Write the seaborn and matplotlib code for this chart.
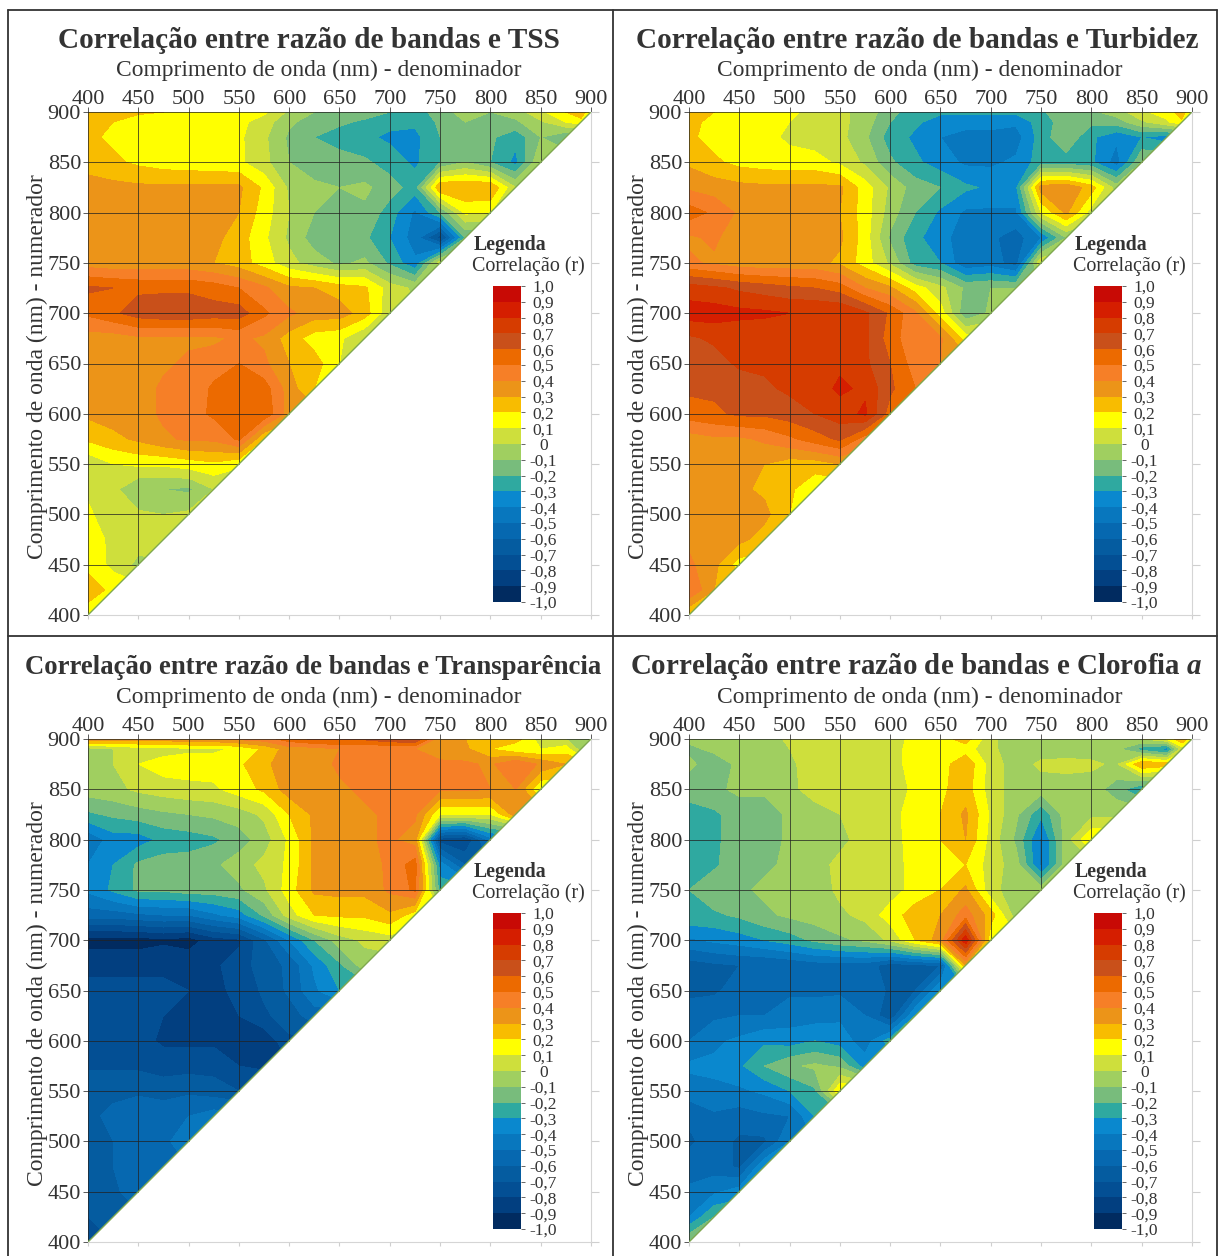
import numpy as np
import matplotlib
matplotlib.use('Agg')
import matplotlib.pyplot as plt
import seaborn as sns
from matplotlib.colors import BoundaryNorm, ListedColormap
from matplotlib.lines import Line2D
from matplotlib.patches import Polygon

W, H = 1219, 1256

wavelengths = [400, 425, 450, 475, 500, 525, 550, 575, 600, 625, 650, 675, 700, 725, 750, 775, 800, 825,
               850, 875, 890, 900]
ticks = [400, 450, 500, 550, 600, 650, 700, 750, 800, 850, 900]
levels = [round(-1 + 0.1 * i, 1) for i in range(21)]
level_labels = ['-1,0', '-0,9', '-0,8', '-0,7', '-0,6', '-0,5', '-0,4', '-0,3', '-0,2', '-0,1', '0',
                '0,1', '0,2', '0,3', '0,4', '0,5', '0,6', '0,7', '0,8', '0,9', '1,0']
level_colors = ['#012B60', '#023F80', '#034F94', '#055CA0', '#0668B0', '#0877BE', '#0A88CE', '#2FA9A0',
                '#78BC7C', '#A0CF60', '#CEDF3C', '#FFFF00', '#F8BC00', '#EC9418', '#F67F27', '#EC6A00',
                '#C9501A', '#D63C00', '#D51E00', '#C80A05']

# rows run from numerator 400 up to 900, each one stops at the diagonal
tss = [
    [.10],
    [.30, .15],
    [.15, .08, -.03],
    [.14, .08, .05, .10],
    [.12, .03, .02, .00, .02],
    [.08, .03, -.10, -.10, -.12, .00],
    [.02, .10, .12, .12, .15, .18, .12],
    [.22, .27, .32, .38, .42, .42, .52, .20],
    [.32, .35, .35, .42, .45, .52, .60, .58, .35],
    [.32, .33, .35, .42, .42, .52, .58, .55, .35, .20],
    [.32, .32, .35, .38, .42, .45, .50, .42, .30, .25, .10],
    [.35, .35, .38, .38, .38, .38, .42, .38, .25, .15, .12, .00],
    [.52, .58, .65, .67, .67, .65, .65, .52, .42, .35, .35, .25, .02],
    [.62, .60, .58, .58, .58, .55, .50, .42, .32, .30, .25, .22, .05, -.02],
    [.35, .33, .33, .33, .33, .30, .25, .15, .03, -.05, -.12, -.08, -.22, -.38, .05],
    [.32, .32, .33, .33, .33, .33, .25, .12, -.02, -.15, -.15, -.18, -.30, -.45, -.75, -.20],
    [.33, .33, .33, .33, .33, .33, .30, .15, .00, -.10, -.10, -.12, -.25, -.42, -.20, .12, .10],
    [.35, .33, .32, .32, .32, .32, .32, .18, -.02, -.08, -.10, -.08, -.15, -.25, .30, .30, .30, .00],
    [.25, .22, .18, .15, .14, .13, .12, .03, -.10, -.15, -.15, -.18, -.25, -.32, -.20, -.10, -.20, -.33, .00],
    [.22, .18, .15, .15, .15, .15, .12, .02, -.12, -.20, -.25, -.28, -.32, -.33, -.20, -.15, -.18, -.27, -.10,
     -.20],
    [.22, .20, .14, .14, .14, .14, .13, .05, -.08, -.15, -.18, -.22, -.27, -.28, -.18, -.10, -.12, -.12, -.02,
     .10, .15],
    [.22, .25, .22, .20, .15, .15, .15, .12, -.02, -.10, -.15, -.15, -.20, -.25, -.15, -.05, -.10, -.05, .08,
     .20, .28, .10],
]
turbidez = [
    [.20],
    [.50, .30],
    [.42, .33, .15],
    [.38, .33, .33, .25],
    [.32, .32, .33, .33, .20],
    [.32, .32, .32, .28, .22, .12],
    [.32, .32, .33, .30, .25, .25, .30],
    [.35, .38, .38, .42, .48, .55, .62, .45],
    [.55, .58, .62, .62, .65, .70, .75, .82, .55],
    [.62, .62, .63, .68, .72, .75, .82, .78, .62, .50],
    [.63, .65, .72, .72, .72, .72, .78, .72, .60, .45, .40],
    [.68, .72, .72, .72, .72, .72, .72, .72, .55, .42, .42, .15],
    [.85, .85, .83, .82, .80, .80, .80, .72, .58, .42, .15, -.18, -.08],
    [.75, .72, .68, .65, .62, .60, .55, .40, .32, .15, .03, -.12, -.10, -.10],
    [.42, .38, .34, .33, .33, .33, .28, .15, -.02, -.25, -.30, -.48, -.45, -.55, .10],
    [.38, .42, .33, .33, .33, .30, .32, .15, -.12, -.28, -.35, -.48, -.48, -.55, -.40, -.10],
    [.55, .48, .38, .35, .33, .33, .30, .15, -.05, -.20, -.32, -.42, -.42, -.42, .10, .32, .05],
    [.38, .35, .33, .32, .32, .32, .32, .15, -.02, -.15, -.20, -.28, -.32, -.32, .35, .38, .25, -.05],
    [.28, .22, .17, .15, .14, .14, .08, -.02, -.18, -.28, -.35, -.42, -.42, -.38, -.25, -.25, -.28, -.45, -.10],
    [.22, .16, .15, .13, .08, .05, .03, -.08, -.25, -.32, -.40, -.42, -.42, -.45, -.25, -.12, -.28, -.38, -.30,
     -.35],
    [.22, .18, .15, .14, .10, .05, .03, -.05, -.20, -.28, -.35, -.38, -.38, -.38, -.25, -.15, -.18, -.15, -.02,
     .08, .18],
    [.22, .20, .15, .15, .13, .05, .03, -.05, -.15, -.28, -.28, -.28, -.28, -.28, -.22, -.12, -.12, -.05, .08,
     .15, .25, .10],
]
transparencia = [
    [-.70],
    [-.70, -.62],
    [-.68, -.62, -.55],
    [-.65, -.60, -.52, -.50],
    [-.62, -.60, -.52, -.52, -.45],
    [-.62, -.58, -.52, -.52, -.50, -.45],
    [-.62, -.62, -.62, -.65, -.62, -.65, -.70],
    [-.72, -.72, -.72, -.74, -.74, -.74, -.80, -.82],
    [-.76, -.76, -.76, -.82, -.82, -.82, -.80, -.88, -.72],
    [-.78, -.78, -.78, -.80, -.82, -.82, -.80, -.72, -.65, -.55],
    [-.78, -.78, -.78, -.78, -.80, -.82, -.78, -.68, -.58, -.42, -.30],
    [-.82, -.82, -.82, -.82, -.82, -.82, -.75, -.65, -.58, -.38, -.22, -.05],
    [-.95, -.95, -.95, -.92, -.95, -.85, -.82, -.62, -.40, -.20, -.05, .02, .05],
    [-.55, -.55, -.52, -.50, -.50, -.42, -.35, -.18, .05, .20, .22, .22, .28, .15],
    [-.38, -.28, -.18, -.18, -.15, -.15, -.12, -.02, .15, .32, .33, .33, .42, .52, -.25],
    [-.40, -.30, -.18, -.15, -.15, -.12, -.05, .03, .12, .32, .35, .35, .42, .55, -.35, -.60],
    [-.48, -.35, -.35, -.27, -.25, -.22, -.15, -.05, .12, .32, .33, .38, .42, .35, -.75, -.80, -.45],
    [-.22, -.18, -.15, -.12, -.10, -.08, -.05, .02, .20, .32, .35, .38, .42, .42, .10, .10, .10, .35],
    [-.05, -.03, .02, .05, .07, .08, .15, .22, .35, .35, .38, .42, .42, .50, .42, .42, .40, .40, .10],
    [-.02, .00, .10, .15, .15, .15, .18, .28, .35, .35, .42, .42, .45, .50, .42, .42, .38, .50, .38, .30],
    [-.05, .00, .05, .05, .08, .08, .12, .22, .35, .35, .40, .40, .40, .40, .35, .32, .20, .12, .10, .15, -.05],
    [.38, .35, .35, .35, .38, .38, .42, .45, .55, .62, .62, .62, .68, .70, .32, .30, .30, .25, .05, .00, -.05,
     -.12],
]
clorofila = [
    [-.10],
    [-.40, -.20],
    [-.48, -.42, -.35],
    [-.55, -.55, -.62, -.30],
    [-.62, -.55, -.62, -.62, -.40],
    [-.58, -.52, -.55, -.52, -.50, -.30],
    [-.45, -.42, -.42, -.38, -.30, -.22, .20],
    [-.38, -.38, -.32, -.20, -.12, -.08, -.12, -.35],
    [-.50, -.42, -.38, -.32, -.35, -.30, -.35, -.45, -.25],
    [-.50, -.52, -.50, -.50, -.45, -.45, -.42, -.50, -.68, -.30],
    [-.65, -.62, -.55, -.52, -.52, -.52, -.52, -.52, -.62, -.60, -.30],
    [-.65, -.62, -.60, -.60, -.58, -.55, -.55, -.55, -.65, -.62, -.60, .30],
    [-.42, -.38, -.35, -.30, -.25, -.18, -.12, -.08, .02, .20, .35, .88, .12],
    [-.22, -.22, -.18, -.12, -.08, -.05, -.02, .03, .15, .25, .30, .45, .25, -.05],
    [-.20, -.12, -.12, -.08, -.08, -.05, .02, .03, .05, .14, .20, .32, .03, -.05, -.05],
    [-.25, -.22, -.12, -.12, -.08, -.03, .02, .03, .05, .14, .16, .20, .05, -.05, -.42, -.05],
    [-.28, -.22, -.15, -.15, -.08, -.05, -.02, .03, .05, .15, .20, .30, .06, -.12, -.42, -.05, .20],
    [-.25, -.22, -.15, -.15, -.08, -.05, .00, .05, .07, .14, .20, .32, .08, -.08, -.28, -.05, -.03, -.03],
    [-.15, -.12, -.08, -.08, -.03, .05, .05, .05, .05, .12, .18, .25, .05, -.05, -.05, -.05, -.05, -.15, -.30],
    [-.08, -.15, -.08, -.05, -.02, .05, .05, .05, .05, .15, .15, .28, .05, -.05, .02, .03, .02, -.02, .30, .25],
    [-.12, -.08, -.05, -.05, .00, .05, .05, .05, .05, .15, .15, .15, .02, -.05, -.05, -.05, -.05, -.08, -.25,
     -.35, .05],
    [-.08, -.08, -.08, -.05, .02, .05, .05, .05, .07, .12, .15, .25, .02, -.05, -.05, -.05, -.05, -.05, .00,
     .10, .30, .10],
]

titles = ['Correlação entre razão de bandas e TSS',
          'Correlação entre razão de bandas e Turbidez',
          'Correlação entre razão de bandas e Transparência',
          'Correlação entre razão de bandas e Clorofia $\\mathbfit{a}$']
panel_rows = [tss, turbidez, transparencia, clorofila]
# axes box in pixels: left, top
origins = [(88, 112), (689, 112), (88, 739), (689, 739)]
title_x = [309, 917, 313, 916]
title_size = [21.1, 21.05, 19.3, 20.9]

sns.set_theme(style='white')
plt.rcParams['font.family'] = ['Liberation Serif', 'DejaVu Serif']
plt.rcParams['mathtext.fontset'] = 'custom'
plt.rcParams['mathtext.bfit'] = 'Liberation Serif:italic:bold'
plt.rcParams['text.color'] = '#333333'

cmap = ListedColormap(sns.color_palette(level_colors, n_colors=20))

fig = plt.figure(figsize=(W / 100, H / 100), dpi=100, facecolor='white')


def to_fig(px, py, w=0, h=0):
    return [px / W, 1 - (py + h) / H, w / W, h / H]


def fig_text(px, py, s, **kw):
    fig.text(px / W, 1 - py / H, s, va='center', **kw)


def full_matrix(rows):
    # the part right of the diagonal is never shown, just repeat the last value
    return np.array([r + [r[-1]] * (len(wavelengths) - len(r)) for r in rows])


for rows, (x0, y0), title, tx, ts in zip(panel_rows, origins, titles, title_x, title_size):
    ax = fig.add_axes(to_fig(x0, y0, 503, 503))
    # one norm per panel, a shared one makes earlier colorbars reset their labels
    norm = BoundaryNorm(levels, cmap.N)
    cf = ax.contourf(wavelengths, wavelengths, full_matrix(rows), levels=levels, cmap=cmap, norm=norm)
    cf.set_clip_path(Polygon([(400, 400), (400, 900), (900, 900)], transform=ax.transData))

    # grid only inside the triangle, with a little overhang on top and left
    ax.vlines(ticks, ticks, 905, color='#222222', lw=0.7, alpha=0.75, clip_on=False)
    ax.hlines(ticks, 395, ticks, color='#222222', lw=0.7, alpha=0.75, clip_on=False)
    sns.lineplot(x=ticks, y=ticks, ax=ax, color='#7FA850', lw=1.0)

    ax.set_xlim(400, 900)
    ax.set_ylim(400, 900)
    ax.set_xticks(ticks)
    ax.set_yticks(ticks)
    ax.tick_params(top=False, left=False, bottom=True, right=True, labeltop=True, labelleft=True,
                   labelbottom=False, labelright=False, length=5.5, width=0.8, color='#cfcfcf',
                   labelsize=16, labelcolor='#333333')
    ax.tick_params(axis='x', pad=-0.5, length=3)
    ax.tick_params(axis='y', pad=-0.5)
    for side in ['top', 'left']:
        ax.spines[side].set_visible(False)
    for side in ['bottom', 'right']:
        ax.spines[side].set_color('#d5d5d5')
        ax.spines[side].set_linewidth(0.8)

    fig_text(tx, y0 - 72, title, fontsize=ts, fontweight='bold', ha='center')
    fig_text(x0 + 231, y0 - 42, 'Comprimento de onda (nm) - denominador', fontsize=16.95, ha='center')
    fig_text(x0 - 51, y0 + 255, 'Comprimento de onda (nm) - numerador', fontsize=17, ha='center', rotation=90)
    fig_text(x0 + 386, y0 + 133, 'Legenda', fontsize=14.3, fontweight='bold', ha='left')
    fig_text(x0 + 384, y0 + 154, 'Correlação (r)', fontsize=14.4, ha='left')

    cax = fig.add_axes(to_fig(x0 + 405, y0 + 174, 28, 316))
    cbar = fig.colorbar(cf, cax=cax, spacing='proportional', drawedges=False)
    cbar.set_ticks(levels, labels=level_labels)
    cbar.outline.set_visible(False)
    cbar.ax.tick_params(length=3, width=0.7, color='#666666', pad=13, labelsize=12.5, labelcolor='#333333')
    for lab in cbar.ax.get_yticklabels():
        lab.set_ha('center')

# panel frames
frame_lines = [((8, 8), (10, H)), ((613, 613), (10, H)), ((1217, 1217), (10, H)),
               ((8, 1217), (10, 10)), ((8, 1217), (636, 636))]
for xs, ys in frame_lines:
    fig.add_artist(Line2D([x / W for x in xs], [1 - y / H for y in ys], color='#333333', lw=1.3))

fig.savefig('out.png', dpi=100, facecolor='white')
